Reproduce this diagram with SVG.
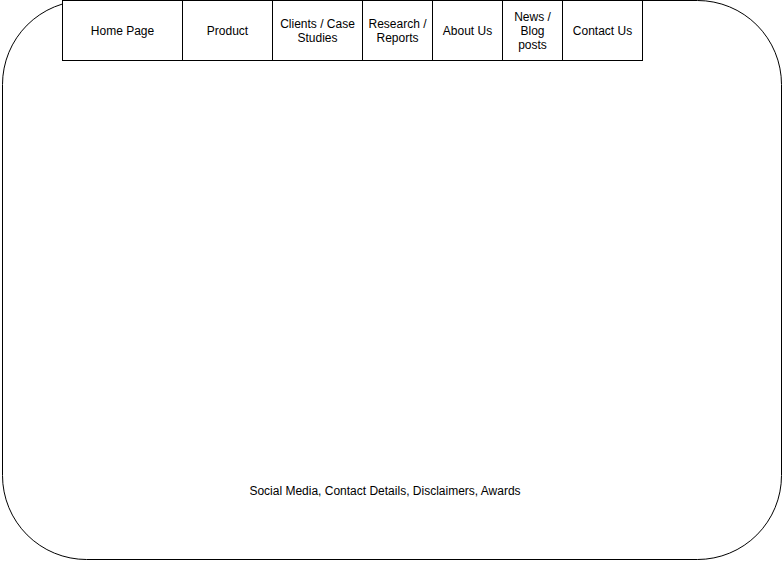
<svg xmlns="http://www.w3.org/2000/svg" width="783" height="561" viewBox="0 0 783 561">
<style>
.b{fill:#fff;stroke:#000;stroke-width:1}
.t{font-family:"Liberation Sans",Arial,sans-serif;font-size:12px;fill:#000;text-anchor:middle}
</style>
<rect width="783" height="561" fill="#fff"/>
<g id="page"><rect class="b" x="2.5" y="0.5" width="779" height="559" rx="84" ry="84"/></g>
<g id="connectors"></g>
<g id="home"><rect class="b" x="62.5" y="0.5" width="120" height="60"/><text class="t" x="122.5" y="35">Home Page</text></g>
<g id="product"><rect class="b" x="182.5" y="0.5" width="90" height="60"/><text class="t" x="227.5" y="35">Product</text></g>
<g id="clients"><rect class="b" x="272.5" y="0.5" width="90" height="60"/><text class="t" x="317.5" y="28">Clients / Case</text><text class="t" x="317.5" y="42">Studies</text></g>
<g id="research"><rect class="b" x="362.5" y="0.5" width="70" height="60"/><text class="t" x="397.5" y="28">Research /</text><text class="t" x="397.5" y="42">Reports</text></g>
<g id="about"><rect class="b" x="432.5" y="0.5" width="70" height="60"/><text class="t" x="467.5" y="35">About Us</text></g>
<g id="news"><rect class="b" x="502.5" y="0.5" width="60" height="60"/><text class="t" x="532.5" y="21">News /</text><text class="t" x="532.5" y="35">Blog</text><text class="t" x="532.5" y="49">posts</text></g>
<g id="contact"><rect class="b" x="562.5" y="0.5" width="80" height="60"/><text class="t" x="602.5" y="35">Contact Us</text></g>
<g id="footer"><text class="t" x="385" y="495">Social Media, Contact Details, Disclaimers, Awards</text></g>
</svg>
